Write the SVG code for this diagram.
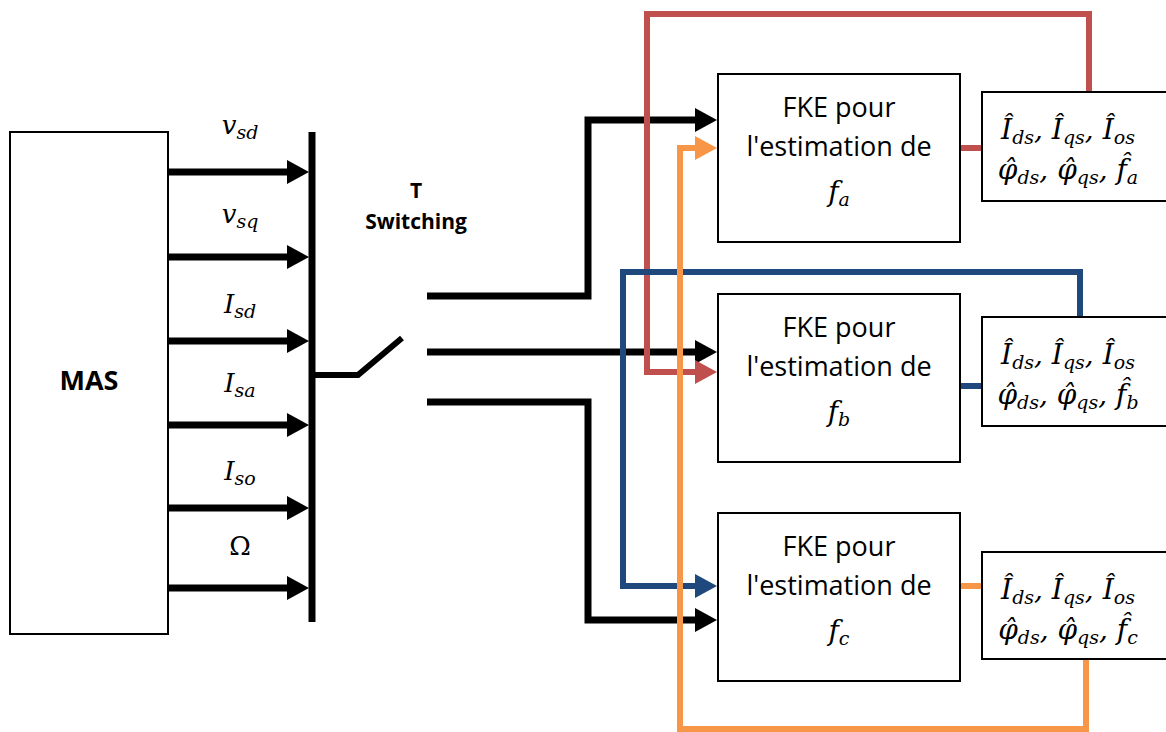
<svg xmlns="http://www.w3.org/2000/svg" width="1166" height="732" viewBox="0 0 1166 732">
<style>
.box{fill:#fff;stroke:#000;stroke-width:2}
.lbl{font-family:"Open Sans","Liberation Sans",sans-serif;font-size:27px;fill:#000;text-anchor:middle}
.bold{font-family:"Open Sans","Liberation Sans",sans-serif;font-weight:bold;fill:#000;text-anchor:middle}
.math{font-family:"DejaVu Serif","Liberation Serif",serif;font-style:italic;font-size:26px;fill:#000;text-anchor:middle}
.big{font-size:28px}
.up{font-style:normal}
.sb{font-size:19px;baseline-shift:-5px}
.k{fill:none;stroke:#000;stroke-width:7}
.r{fill:none;stroke:#C0504D;stroke-width:6}
.b{fill:none;stroke:#1F497D;stroke-width:6}
.o{fill:none;stroke:#F79646;stroke-width:6}
</style>
<defs>
<marker id="ak" markerUnits="userSpaceOnUse" markerWidth="24" markerHeight="26" refX="2" refY="12" orient="auto"><path d="M0,0 L22,12 L0,24 z" fill="#000"/></marker>
<marker id="ar" markerUnits="userSpaceOnUse" markerWidth="24" markerHeight="26" refX="2" refY="12" orient="auto"><path d="M0,0 L22,12 L0,24 z" fill="#C0504D"/></marker>
<marker id="ab" markerUnits="userSpaceOnUse" markerWidth="24" markerHeight="26" refX="2" refY="12" orient="auto"><path d="M0,0 L22,12 L0,24 z" fill="#1F497D"/></marker>
<marker id="ao" markerUnits="userSpaceOnUse" markerWidth="24" markerHeight="26" refX="2" refY="12" orient="auto"><path d="M0,0 L22,12 L0,24 z" fill="#F79646"/></marker>
</defs>
<rect width="1166" height="732" fill="#fff"/>

<g id="connectors">
<path class="k" d="M168,172 H289" marker-end="url(#ak)"/>
<path class="k" d="M168,257 H289" marker-end="url(#ak)"/>
<path class="k" d="M168,341 H289" marker-end="url(#ak)"/>
<path class="k" d="M168,425 H289" marker-end="url(#ak)"/>
<path class="k" d="M168,508 H289" marker-end="url(#ak)"/>
<path class="k" d="M168,588 H289" marker-end="url(#ak)"/>
<path class="k" d="M427,296 H588 V120 H697" marker-end="url(#ak)"/>
<path class="k" d="M427,352 H697" marker-end="url(#ak)"/>
<path class="k" d="M427,402 H588 V620 H697" marker-end="url(#ak)"/>
<path class="r" d="M1089,92 V14 H647 V372 H697" marker-end="url(#ar)"/>
<path class="r" d="M960,148 H982"/>
<path class="b" d="M1080,317 V272 H623 V586 H697" marker-end="url(#ab)"/>
<path class="b" d="M960,386 H982"/>
<path class="o" d="M1086,659 V729 H680 V148 H697" marker-end="url(#ao)"/>
<path class="o" d="M960,586 H982"/>
</g>

<g id="mas">
<rect class="box" x="10" y="132" width="158" height="502"/>
<text class="bold" x="89" y="390" font-size="27">MAS</text>
</g>

<g id="input-labels">
<text class="math" x="240" y="134">v<tspan class="sb">sd</tspan></text>
<text class="math" x="240" y="223">v<tspan class="sb">sq</tspan></text>
<text class="math" x="240" y="313">I<tspan class="sb">sd</tspan></text>
<text class="math" x="240" y="392">I<tspan class="sb">sa</tspan></text>
<text class="math" x="240" y="480">I<tspan class="sb">so</tspan></text>
<text class="math up" x="240" y="555">Ω</text>
</g>

<g id="switch">
<line x1="312" y1="132" x2="312" y2="622" stroke="#000" stroke-width="7"/>
<polyline points="312,375 358,375 402,338" fill="none" stroke="#000" stroke-width="6"/>
<text class="bold" x="416" y="198" font-size="21">T</text>
<text class="bold" x="416" y="229" font-size="21">Switching</text>
</g>

<g id="fke-a">
<rect class="box" x="718" y="74" width="242" height="168"/>
<text class="lbl" x="839" y="117">FKE pour</text>
<text class="lbl" x="839" y="156">l'estimation de</text>
<text class="math big" x="839" y="201">f<tspan class="sb">a</tspan></text>
</g>
<g id="fke-b">
<rect class="box" x="718" y="294" width="242" height="168"/>
<text class="lbl" x="839" y="337">FKE pour</text>
<text class="lbl" x="839" y="376">l'estimation de</text>
<text class="math big" x="839" y="421">f<tspan class="sb">b</tspan></text>
</g>
<g id="fke-c">
<rect class="box" x="718" y="513" width="242" height="168"/>
<text class="lbl" x="839" y="556">FKE pour</text>
<text class="lbl" x="839" y="595">l'estimation de</text>
<text class="math big" x="839" y="640">f<tspan class="sb">c</tspan></text>
</g>

<g id="out-a">
<rect class="box" x="982" y="92" width="200" height="109"/>
<text class="math big" x="1068" y="139">Î<tspan class="sb">ds</tspan>, Î<tspan class="sb">qs</tspan>, Î<tspan class="sb">os</tspan></text>
<text class="math big" x="1068" y="179">φ̂<tspan class="sb">ds</tspan>, φ̂<tspan class="sb">qs</tspan>, f̂<tspan class="sb">a</tspan></text>
</g>
<g id="out-b">
<rect class="box" x="982" y="317" width="200" height="109"/>
<text class="math big" x="1068" y="364">Î<tspan class="sb">ds</tspan>, Î<tspan class="sb">qs</tspan>, Î<tspan class="sb">os</tspan></text>
<text class="math big" x="1068" y="404">φ̂<tspan class="sb">ds</tspan>, φ̂<tspan class="sb">qs</tspan>, f̂<tspan class="sb">b</tspan></text>
</g>
<g id="out-c">
<rect class="box" x="982" y="552" width="200" height="107"/>
<text class="math big" x="1068" y="599">Î<tspan class="sb">ds</tspan>, Î<tspan class="sb">qs</tspan>, Î<tspan class="sb">os</tspan></text>
<text class="math big" x="1068" y="639">φ̂<tspan class="sb">ds</tspan>, φ̂<tspan class="sb">qs</tspan>, f̂<tspan class="sb">c</tspan></text>
</g>
</svg>
